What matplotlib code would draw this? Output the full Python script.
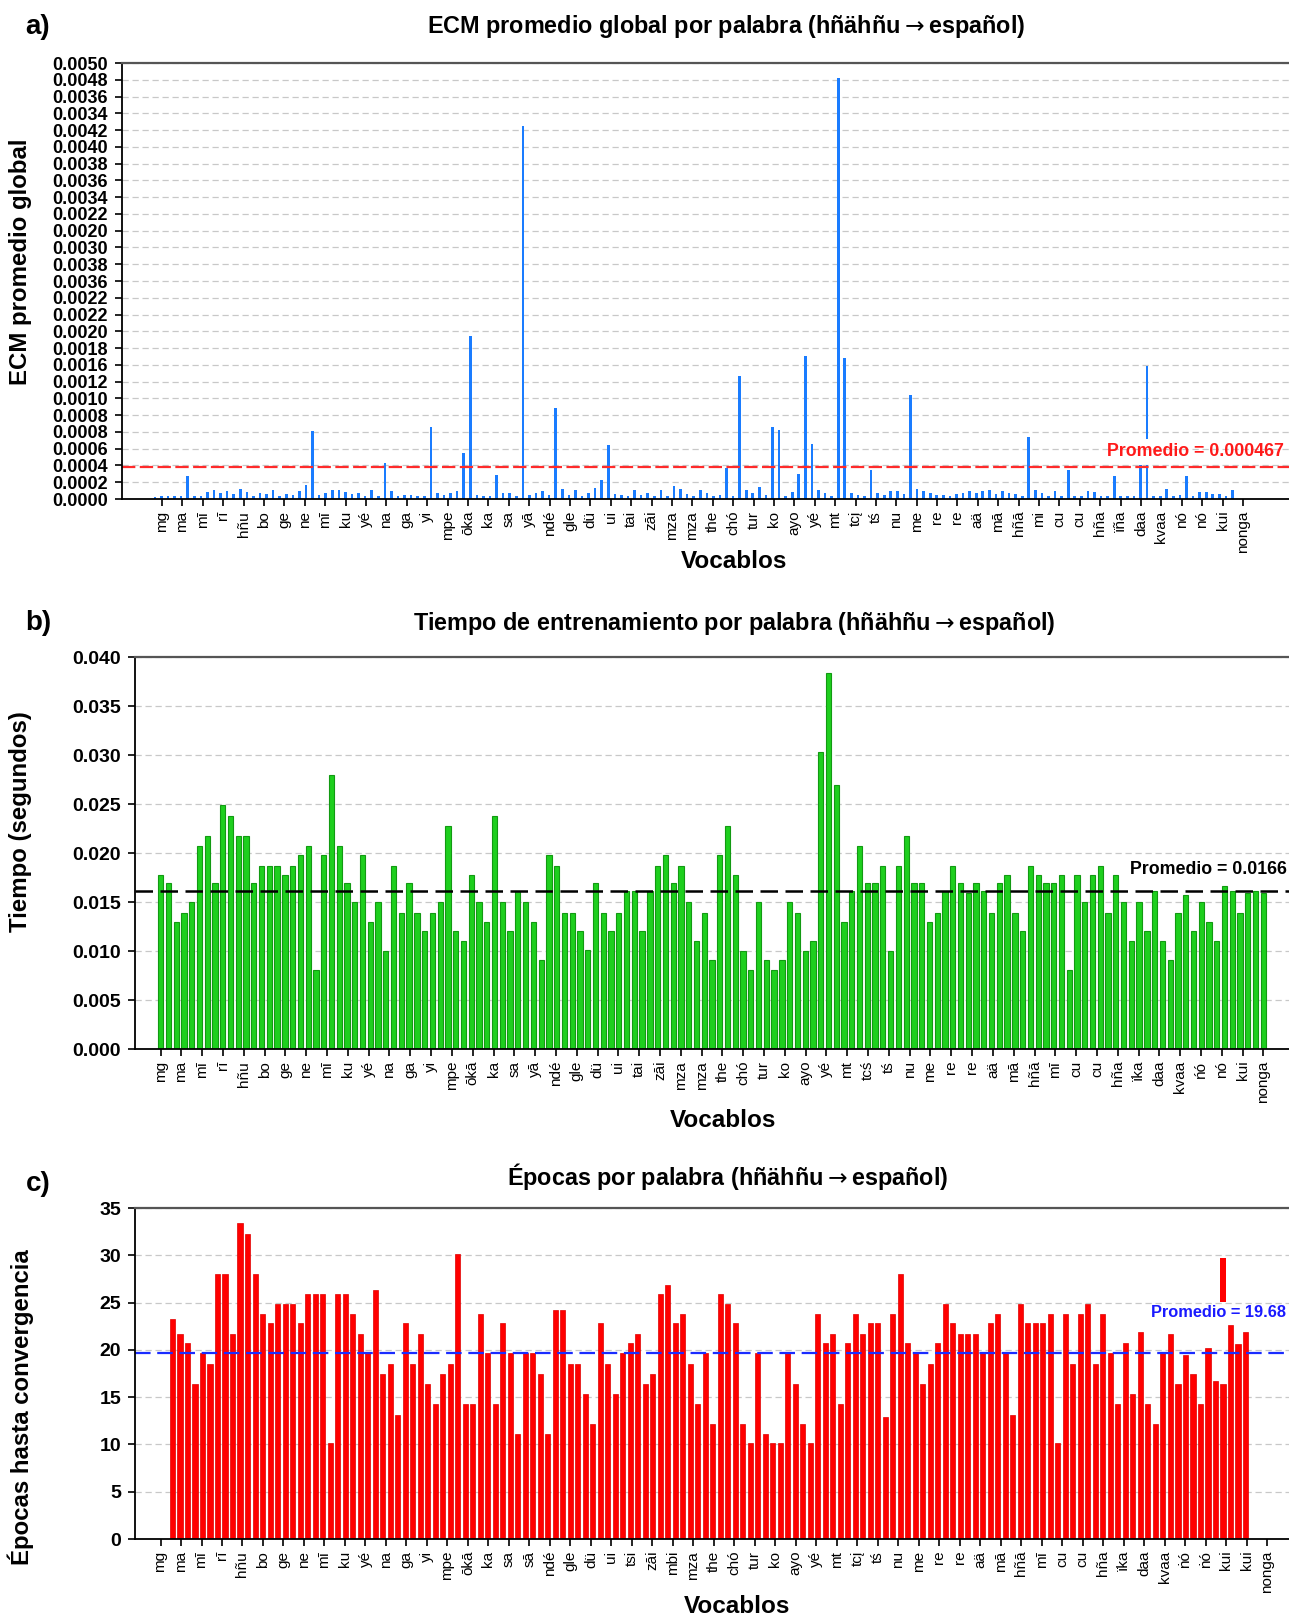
import numpy as np
import matplotlib
matplotlib.use("Agg")
import matplotlib.pyplot as plt

plt.rcParams['font.family'] = ['Liberation Sans', 'DejaVu Sans']

# ---------------- datos ----------------
# a) ECM promedio global (unidades de 1e-4)
ecm = [0.28, 0.3, 0.4, 0.3, 0.3, 2.8, 0.4, 0.4, 0.8, 1.1, 0.7, 0.9, 0.6, 1.2, 0.8, 0.4, 0.7, 0.6, 1.1, 0.4,
       0.6, 0.5, 1.0, 1.7, 8.1, 0.5, 0.7, 1.1, 1.1, 0.8, 0.6, 0.7, 0.4, 1.1, 0.4, 4.3, 0.9, 0.4, 0.5, 0.5,
       0.3, 0.3, 8.6, 0.7, 0.5, 0.7, 1.0, 5.5, 19.4, 0.5, 0.4, 0.4, 2.9, 0.7, 0.7, 0.4, 44.5, 0.5, 0.7, 1.0,
       0.5, 10.8, 1.2, 0.5, 1.1, 0.4, 0.7, 1.3, 2.3, 6.4, 0.6, 0.5, 0.4, 1.1, 0.5, 0.7, 0.3, 1.1, 0.4, 1.5,
       1.2, 0.6, 0.4, 1.1, 0.7, 0.4, 0.5, 3.7, 0.4, 14.7, 1.1, 0.7, 1.4, 0.5, 8.6, 8.2, 0.4, 0.8, 3.0, 17.1,
       6.6, 1.1, 0.7, 0.4, 50.2, 16.8, 0.7, 0.5, 0.4, 3.4, 0.7, 0.5, 1.0, 1.0, 0.6, 12.4, 1.2,
       0.9, 0.7, 0.5, 0.5, 0.4, 0.6, 0.7, 1.0, 0.7, 0.9, 1.1, 0.6, 1.0, 0.7, 0.6, 0.4, 7.4, 1.1, 0.7, 0.4,
       1.0, 0.4, 3.4, 0.4, 0.4, 0.9, 0.8, 0.4, 0.4, 2.7, 0.4, 0.4, 0.4, 4.0, 4.1, 0.4, 0.4, 1.2, 0.4, 0.5,
       2.7, 0.4, 0.8, 0.8, 0.6, 0.6, 0.4, 1.1]
ecm_tramo = (151, 7.1, 15.9)      # segmento suelto sobre "daa"
ecm_prom = 0.000467
ecm_prom_linea = 3.8               # donde aparece la linea (1e-4)

labels_a = ["mg", "ma", "mī", "rī", "hñu", "bo", "ge", "ne", "mī", "ku", "yé", "na", "ga", "yi", "mpe", "ōka",
            "ka", "sa", "yā", "ndé", "gle", "dü", "ui", "tai", "zāi", "mza", "mza", "the", "chó", "tur", "ko",
            "ayo", "yé", "mt", "tcį", "tś", "nu", "me", "re", "re", "aä", "mā", "hñā", "mi", "cu", "cu", "hña",
            "ïña", "daa", "kvaa", "nó", "nó", "kui", "nonga"]

# etiquetas del eje y tal como aparecen (de abajo hacia arriba)
yticks_a = ["0.0000", "0.0002", "0.0004", "0.0006", "0.0008", "0.0008", "0.0010", "0.0012", "0.0016",
            "0.0018", "0.0020", "0.0022", "0.0022", "0.0036", "0.0038", "0.0030", "0.0020", "0.0022",
            "0.0034", "0.0036", "0.0038", "0.0040", "0.0042", "0.0034", "0.0036", "0.0048", "0.0050"]

# b) tiempo de entrenamiento (ms)
tiempo = [17.8, 16.9, 13.0, 13.9, 15.0, 20.7, 21.7, 16.9, 24.9, 23.8, 21.7, 21.7, 16.9, 18.7, 18.7, 18.7,
          17.8, 18.7, 19.8, 20.7, 8.1, 19.8, 28.0, 20.7, 16.9, 15.0, 19.8, 13.0, 15.0, 10.0, 18.7, 13.9,
          16.9, 13.9, 12.0, 13.9, 15.0, 22.8, 12.0, 11.0, 17.8, 15.0, 13.0, 23.8, 15.0, 12.0, 16.1,
          15.0, 13.0, 9.1, 19.8, 18.7, 13.9, 13.9, 12.0, 10.1, 16.9, 13.9, 12.0, 13.9, 16.1, 16.1, 12.0,
          16.1, 18.7, 19.8, 16.9, 18.7, 15.0, 11.0, 13.9, 9.1, 19.8, 22.8, 17.8, 10.0, 8.1, 15.0, 9.1,
          8.1, 9.1, 15.0, 13.9, 10.0, 11.0, 30.3, 38.4, 26.9, 13.0, 16.1, 20.7, 16.9, 16.9, 18.7, 10.0, 18.7,
          21.7, 16.9, 16.9, 13.0, 13.9, 16.1, 18.7, 16.9, 15.9, 16.9, 16.1, 13.9, 16.9, 17.8, 13.9, 12.0,
          18.7, 17.8, 16.9, 16.9, 17.8, 8.1, 17.8, 15.0, 17.8, 18.7, 13.9, 17.8, 15.0, 11.0, 15.0, 12.0,
          16.1, 11.0, 9.1, 13.9, 15.7, 12.0, 15.0, 13.0, 11.0, 16.6, 16.1, 13.9, 15.9, 16.1, 15.9]
tiempo_prom = 0.0166
tiempo_prom_linea = 0.0161

labels_b = ["mg", "ma", "mī", "rī", "hñu", "bo", "ge", "ne", "mī", "ku", "yé", "na", "ga", "yi", "mpe", "ōkā",
            "ka", "sa", "yā", "ndé", "gle", "dü", "ui", "tai", "zāi", "mza", "mza", "the", "chó", "tur", "ko",
            "ayo", "yé", "mt", "tcś", "tś", "nu", "me", "re", "re", "aä", "mā", "hñā", "mī", "cu", "cu", "hña",
            "ïka", "daa", "kvaa", "ńó", "nó", "kui", "nonga"]

# c) epocas hasta convergencia
epocas = [23.3, 21.7, 20.7, 16.4, 19.7, 18.5, 28.0, 28.0, 21.7, 33.4, 32.3, 28.0, 23.8, 22.8, 24.9, 24.9,
          24.9, 22.8, 25.9, 25.9, 25.9, 10.1, 25.9, 25.9, 23.8, 21.7, 19.7, 26.3, 17.5, 18.5, 13.1, 22.8,
          18.5, 21.7, 16.4, 14.3, 17.5, 18.5, 30.1, 14.3, 14.3, 23.8, 19.7, 14.3, 22.8, 19.7, 11.1,
          19.7, 19.7, 17.5, 11.1, 24.2, 24.2, 18.5, 18.5, 15.3, 12.2, 22.8, 18.5, 15.3, 19.7, 20.7, 21.7,
          16.4, 17.5, 25.9, 26.9, 22.8, 23.8, 18.5, 14.3, 19.7, 12.2, 25.9, 24.9, 22.8, 12.2, 10.1, 19.7,
          11.1, 10.1, 10.1, 19.7, 16.4, 12.2, 10.1, 23.8, 20.7, 21.7, 14.3, 20.7, 23.8, 21.7, 22.8, 22.8,
          12.9, 23.8,
          28.0, 20.7, 19.7, 16.4, 18.5, 20.7, 24.9, 22.8, 21.7, 21.7, 21.7, 19.7, 22.8, 23.8, 19.7, 13.1,
          24.9, 22.8, 22.8, 22.8, 23.8, 10.1, 23.8, 18.5, 23.8, 24.9, 18.5, 23.8, 19.7, 14.3, 20.7, 15.3,
          21.9, 14.3, 12.2, 19.7, 21.7, 16.4, 19.5, 17.5, 14.3, 20.2, 16.7, 16.4, 22.6, 20.6, 21.9]
epocas_tramo = (140, 25.1, 29.7)
epocas_prom = 19.68

labels_c = ["mg", "ma", "mī", "rī", "hñu", "bo", "ge", "ne", "mī", "ku", "yé", "na", "ga", "yi", "mpe", "ōkā",
            "ka", "sa", "sā", "ndé", "gle", "dü", "ui", "tsi", "zāi", "mbi", "mza", "the", "chó", "tur", "ko",
            "ayo", "yé", "mt", "tcį", "tś", "nu", "me", "re", "re", "aä", "mā", "hñā", "mī", "cu", "cu", "hña",
            "ïka", "daa", "kvaa", "ṅó", "ṅó", "kui", "kui", "nonga"]

# ---------------- figura ----------------
W, H = 1289, 1619
fig = plt.figure(figsize=(W / 100, H / 100), dpi=100)


def fx(x):
    return x / W


def fy(y):
    return 1 - y / H


def caja(x0, y0, y1):
    return [fx(x0), fy(y1), 1 - fx(x0), (y1 - y0) / H]


def estilo(ax, labels, pos, xl, ysize=14):
    ax.set_xlim(*xl)
    ax.set_xticks(pos)
    ax.set_xticklabels(labels, rotation=90, fontsize=11)
    ax.spines['right'].set_visible(False)
    ax.spines['top'].set_color('#555555')
    ax.spines['top'].set_linewidth(1.6)
    for s in ['left', 'bottom']:
        ax.spines[s].set_linewidth(1.3)
    ax.grid(axis='y', ls=(0, (5, 3)), color='#c8c8c8', lw=0.9)
    ax.set_axisbelow(True)
    ax.tick_params(axis='both', direction='out', length=5, width=1.2)
    ax.tick_params(axis='y', pad=5)
    for t in ax.get_yticklabels():
        t.set_fontweight('bold')
        t.set_fontsize(ysize)


# a)
ax1 = fig.add_axes(caja(122, 63, 499))
xa = np.arange(len(ecm))
ax1.bar(xa, np.array(ecm) * 1e-4, width=0.4, color='#1a7cff')
i, lo, hi = ecm_tramo
ax1.bar(xa[i], (hi - lo) * 1e-4, bottom=lo * 1e-4, width=0.4, color='#1a7cff')
ax1.set_ylim(0, 0.0052)
ax1.set_yticks(np.arange(27) * 0.0002)
ax1.set_yticklabels(yticks_a)
ax1.axhline(ecm_prom_linea * 1e-4, color='#ff2a2a', ls=(0, (6, 2)), lw=1.6)
estilo(ax1, labels_a, np.linspace(1.1, 165.6, len(labels_a)), (-5.0, 172.6), ysize=13)

# b)
ax2 = fig.add_axes(caja(135, 657, 1049))
xb = np.arange(len(tiempo))
ax2.bar(xb, np.array(tiempo) * 1e-3, width=0.68, color='#1ecf1e', edgecolor='#129a12', lw=0.8)
ax2.set_ylim(0, 0.040)
ax2.set_yticks(np.arange(0, 0.0401, 0.005))
ax2.set_yticklabels(["%.3f" % v for v in np.arange(0, 0.0401, 0.005)])
ax2.axhline(tiempo_prom_linea, color='black', ls=(0, (7, 3)), lw=1.8)
estilo(ax2, labels_b, np.linspace(0, len(tiempo) - 1, len(labels_b)), (-3.3, 145.3))

# c)
ax3 = fig.add_axes(caja(135, 1208, 1539))
xc = np.arange(len(epocas))
ax3.bar(xc, epocas, width=0.68, color='#ff0000', edgecolor='#e00000', lw=0.5)
i, lo, hi = epocas_tramo
ax3.bar(xc[i], hi - lo, bottom=lo, width=0.68, color='#ff0000')
ax3.set_ylim(0, 35)
ax3.set_yticks(range(0, 36, 5))
ax3.axhline(epocas_prom, color='#1a2cff', ls=(0, (7, 3)), lw=1.6)
estilo(ax3, labels_c, np.linspace(-1.6, 145.9, len(labels_c)), (-5.0, 148.8))

# textos
for letra, y in [("a)", 27), ("b)", 623), ("c)", 1184)]:
    fig.text(fx(38), fy(y), letra, fontsize=20, fontweight='bold', ha='center', va='center')

flecha = r"$\rightarrow$"
titulos = [("ECM promedio global por palabra (hñähñu" + flecha + "español)", 726, 27),
           ("Tiempo de entrenamiento por palabra (hñähñu" + flecha + "español)", 734, 623),
           ("Épocas por palabra (hñähñu" + flecha + "español)", 728, 1176)]
for txt, x, y in titulos:
    fig.text(fx(x), fy(y), txt, fontsize=16.8, fontweight='bold', ha='center', va='center')

ylabels = [("ECM promedio global", 262), ("Tiempo (segundos)", 822), ("Épocas hasta convergencia", 1407)]
for txt, y in ylabels:
    fig.text(fx(21), fy(y), txt, fontsize=17.3, fontweight='bold', ha='center', va='center', rotation=90)

for x, y in [(734, 562), (723, 1120), (737, 1606)]:
    fig.text(fx(x), fy(y), "Vocablos", fontsize=17.5, fontweight='bold', ha='center', va='center')

fig.text(fx(1284), fy(452), "Promedio = %.6f" % ecm_prom, color='#ff1a1a', fontsize=12.8,
         fontweight='bold', ha='right', va='center')
fig.text(fx(1287), fy(869), "Promedio = %.4f" % tiempo_prom, color='black', fontsize=12.8,
         fontweight='bold', ha='right', va='center')
fig.text(fx(1286), fy(1312), "Promedio = %.2f" % epocas_prom, color='#1a1aff', fontsize=11.8,
         fontweight='bold', ha='right', va='center')

fig.savefig("out.png", dpi=100)
